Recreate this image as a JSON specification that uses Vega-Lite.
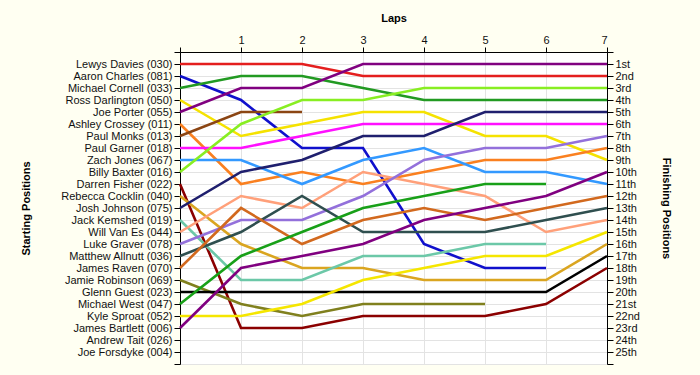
{
  "$schema": "https://vega.github.io/schema/vega-lite/v6.json",
  "width": 427,
  "height": 312,
  "autosize": {"type": "none"},
  "padding": {"left": 180, "top": 52, "right": 93, "bottom": 11},
  "background": "#FFFFF2",
  "config": {
    "view": {"fill": "white", "stroke": null},
    "font": "Liberation Sans",
    "axis": {
      "domainColor": "#000000",
      "tickColor": "#000000",
      "labelColor": "#111111",
      "titleColor": "#000000",
      "labelFont": "Liberation Sans",
      "titleFont": "Liberation Sans",
      "labelFontSize": 11,
      "titleFontSize": 11,
      "titleFontWeight": "bold",
      "gridColor": "#E3E3E3",
      "gridWidth": 1
    }
  },
  "data": {
    "values": [
      {"driver": "Lewys Davies (030)", "lap": 0, "pos": 1}, {"driver": "Lewys Davies (030)", "lap": 1, "pos": 1}, {"driver": "Lewys Davies (030)", "lap": 2, "pos": 1}, {"driver": "Lewys Davies (030)", "lap": 3, "pos": 2}, {"driver": "Lewys Davies (030)", "lap": 4, "pos": 2}, {"driver": "Lewys Davies (030)", "lap": 5, "pos": 2}, {"driver": "Lewys Davies (030)", "lap": 6, "pos": 2}, {"driver": "Lewys Davies (030)", "lap": 7, "pos": 2},
      {"driver": "Aaron Charles (081)", "lap": 0, "pos": 2}, {"driver": "Aaron Charles (081)", "lap": 1, "pos": 4}, {"driver": "Aaron Charles (081)", "lap": 2, "pos": 8}, {"driver": "Aaron Charles (081)", "lap": 3, "pos": 8}, {"driver": "Aaron Charles (081)", "lap": 4, "pos": 16}, {"driver": "Aaron Charles (081)", "lap": 5, "pos": 18}, {"driver": "Aaron Charles (081)", "lap": 6, "pos": 18},
      {"driver": "Michael Cornell (033)", "lap": 0, "pos": 3}, {"driver": "Michael Cornell (033)", "lap": 1, "pos": 2}, {"driver": "Michael Cornell (033)", "lap": 2, "pos": 2}, {"driver": "Michael Cornell (033)", "lap": 3, "pos": 3}, {"driver": "Michael Cornell (033)", "lap": 4, "pos": 4}, {"driver": "Michael Cornell (033)", "lap": 5, "pos": 4}, {"driver": "Michael Cornell (033)", "lap": 6, "pos": 4}, {"driver": "Michael Cornell (033)", "lap": 7, "pos": 4},
      {"driver": "Ross Darlington (050)", "lap": 0, "pos": 4}, {"driver": "Ross Darlington (050)", "lap": 1, "pos": 7}, {"driver": "Ross Darlington (050)", "lap": 2, "pos": 6}, {"driver": "Ross Darlington (050)", "lap": 3, "pos": 5}, {"driver": "Ross Darlington (050)", "lap": 4, "pos": 5}, {"driver": "Ross Darlington (050)", "lap": 5, "pos": 7}, {"driver": "Ross Darlington (050)", "lap": 6, "pos": 7}, {"driver": "Ross Darlington (050)", "lap": 7, "pos": 9},
      {"driver": "Joe Porter (055)", "lap": 0, "pos": 5}, {"driver": "Joe Porter (055)", "lap": 1, "pos": 3}, {"driver": "Joe Porter (055)", "lap": 2, "pos": 3}, {"driver": "Joe Porter (055)", "lap": 3, "pos": 1}, {"driver": "Joe Porter (055)", "lap": 4, "pos": 1}, {"driver": "Joe Porter (055)", "lap": 5, "pos": 1}, {"driver": "Joe Porter (055)", "lap": 6, "pos": 1}, {"driver": "Joe Porter (055)", "lap": 7, "pos": 1},
      {"driver": "Ashley Crossey (011)", "lap": 0, "pos": 6}, {"driver": "Ashley Crossey (011)", "lap": 1, "pos": 11}, {"driver": "Ashley Crossey (011)", "lap": 2, "pos": 10}, {"driver": "Ashley Crossey (011)", "lap": 3, "pos": 11}, {"driver": "Ashley Crossey (011)", "lap": 4, "pos": 10}, {"driver": "Ashley Crossey (011)", "lap": 5, "pos": 9}, {"driver": "Ashley Crossey (011)", "lap": 6, "pos": 9}, {"driver": "Ashley Crossey (011)", "lap": 7, "pos": 8},
      {"driver": "Paul Monks (013)", "lap": 0, "pos": 7}, {"driver": "Paul Monks (013)", "lap": 1, "pos": 5}, {"driver": "Paul Monks (013)", "lap": 2, "pos": 5},
      {"driver": "Paul Garner (018)", "lap": 0, "pos": 8}, {"driver": "Paul Garner (018)", "lap": 1, "pos": 8}, {"driver": "Paul Garner (018)", "lap": 2, "pos": 7}, {"driver": "Paul Garner (018)", "lap": 3, "pos": 6}, {"driver": "Paul Garner (018)", "lap": 4, "pos": 6}, {"driver": "Paul Garner (018)", "lap": 5, "pos": 6}, {"driver": "Paul Garner (018)", "lap": 6, "pos": 6}, {"driver": "Paul Garner (018)", "lap": 7, "pos": 6},
      {"driver": "Zach Jones (067)", "lap": 0, "pos": 9}, {"driver": "Zach Jones (067)", "lap": 1, "pos": 9}, {"driver": "Zach Jones (067)", "lap": 2, "pos": 11}, {"driver": "Zach Jones (067)", "lap": 3, "pos": 9}, {"driver": "Zach Jones (067)", "lap": 4, "pos": 8}, {"driver": "Zach Jones (067)", "lap": 5, "pos": 10}, {"driver": "Zach Jones (067)", "lap": 6, "pos": 10}, {"driver": "Zach Jones (067)", "lap": 7, "pos": 11},
      {"driver": "Billy Baxter (016)", "lap": 0, "pos": 10}, {"driver": "Billy Baxter (016)", "lap": 1, "pos": 6}, {"driver": "Billy Baxter (016)", "lap": 2, "pos": 4}, {"driver": "Billy Baxter (016)", "lap": 3, "pos": 4}, {"driver": "Billy Baxter (016)", "lap": 4, "pos": 3}, {"driver": "Billy Baxter (016)", "lap": 5, "pos": 3}, {"driver": "Billy Baxter (016)", "lap": 6, "pos": 3}, {"driver": "Billy Baxter (016)", "lap": 7, "pos": 3},
      {"driver": "Darren Fisher (022)", "lap": 0, "pos": 11}, {"driver": "Darren Fisher (022)", "lap": 1, "pos": 23}, {"driver": "Darren Fisher (022)", "lap": 2, "pos": 23}, {"driver": "Darren Fisher (022)", "lap": 3, "pos": 22}, {"driver": "Darren Fisher (022)", "lap": 4, "pos": 22}, {"driver": "Darren Fisher (022)", "lap": 5, "pos": 22}, {"driver": "Darren Fisher (022)", "lap": 6, "pos": 21}, {"driver": "Darren Fisher (022)", "lap": 7, "pos": 18},
      {"driver": "Rebecca Cocklin (040)", "lap": 0, "pos": 12}, {"driver": "Rebecca Cocklin (040)", "lap": 1, "pos": 16}, {"driver": "Rebecca Cocklin (040)", "lap": 2, "pos": 18}, {"driver": "Rebecca Cocklin (040)", "lap": 3, "pos": 18}, {"driver": "Rebecca Cocklin (040)", "lap": 4, "pos": 19}, {"driver": "Rebecca Cocklin (040)", "lap": 5, "pos": 19}, {"driver": "Rebecca Cocklin (040)", "lap": 6, "pos": 19}, {"driver": "Rebecca Cocklin (040)", "lap": 7, "pos": 16},
      {"driver": "Josh Johnson (075)", "lap": 0, "pos": 13}, {"driver": "Josh Johnson (075)", "lap": 1, "pos": 10}, {"driver": "Josh Johnson (075)", "lap": 2, "pos": 9}, {"driver": "Josh Johnson (075)", "lap": 3, "pos": 7}, {"driver": "Josh Johnson (075)", "lap": 4, "pos": 7}, {"driver": "Josh Johnson (075)", "lap": 5, "pos": 5}, {"driver": "Josh Johnson (075)", "lap": 6, "pos": 5}, {"driver": "Josh Johnson (075)", "lap": 7, "pos": 5},
      {"driver": "Jack Kemshed (019)", "lap": 0, "pos": 14}, {"driver": "Jack Kemshed (019)", "lap": 1, "pos": 19}, {"driver": "Jack Kemshed (019)", "lap": 2, "pos": 19}, {"driver": "Jack Kemshed (019)", "lap": 3, "pos": 17}, {"driver": "Jack Kemshed (019)", "lap": 4, "pos": 17}, {"driver": "Jack Kemshed (019)", "lap": 5, "pos": 16}, {"driver": "Jack Kemshed (019)", "lap": 6, "pos": 16},
      {"driver": "Will Van Es (044)", "lap": 0, "pos": 15}, {"driver": "Will Van Es (044)", "lap": 1, "pos": 12}, {"driver": "Will Van Es (044)", "lap": 2, "pos": 13}, {"driver": "Will Van Es (044)", "lap": 3, "pos": 10}, {"driver": "Will Van Es (044)", "lap": 4, "pos": 11}, {"driver": "Will Van Es (044)", "lap": 5, "pos": 12}, {"driver": "Will Van Es (044)", "lap": 6, "pos": 15}, {"driver": "Will Van Es (044)", "lap": 7, "pos": 14},
      {"driver": "Luke Graver (078)", "lap": 0, "pos": 16}, {"driver": "Luke Graver (078)", "lap": 1, "pos": 14}, {"driver": "Luke Graver (078)", "lap": 2, "pos": 14}, {"driver": "Luke Graver (078)", "lap": 3, "pos": 12}, {"driver": "Luke Graver (078)", "lap": 4, "pos": 9}, {"driver": "Luke Graver (078)", "lap": 5, "pos": 8}, {"driver": "Luke Graver (078)", "lap": 6, "pos": 8}, {"driver": "Luke Graver (078)", "lap": 7, "pos": 7},
      {"driver": "Matthew Allnutt (036)", "lap": 0, "pos": 17}, {"driver": "Matthew Allnutt (036)", "lap": 1, "pos": 15}, {"driver": "Matthew Allnutt (036)", "lap": 2, "pos": 12}, {"driver": "Matthew Allnutt (036)", "lap": 3, "pos": 15}, {"driver": "Matthew Allnutt (036)", "lap": 4, "pos": 15}, {"driver": "Matthew Allnutt (036)", "lap": 5, "pos": 15}, {"driver": "Matthew Allnutt (036)", "lap": 6, "pos": 14}, {"driver": "Matthew Allnutt (036)", "lap": 7, "pos": 13},
      {"driver": "James Raven (070)", "lap": 0, "pos": 18}, {"driver": "James Raven (070)", "lap": 1, "pos": 13}, {"driver": "James Raven (070)", "lap": 2, "pos": 16}, {"driver": "James Raven (070)", "lap": 3, "pos": 14}, {"driver": "James Raven (070)", "lap": 4, "pos": 13}, {"driver": "James Raven (070)", "lap": 5, "pos": 14}, {"driver": "James Raven (070)", "lap": 6, "pos": 13}, {"driver": "James Raven (070)", "lap": 7, "pos": 12},
      {"driver": "Jamie Robinson (069)", "lap": 0, "pos": 19}, {"driver": "Jamie Robinson (069)", "lap": 1, "pos": 21}, {"driver": "Jamie Robinson (069)", "lap": 2, "pos": 22}, {"driver": "Jamie Robinson (069)", "lap": 3, "pos": 21}, {"driver": "Jamie Robinson (069)", "lap": 4, "pos": 21}, {"driver": "Jamie Robinson (069)", "lap": 5, "pos": 21},
      {"driver": "Glenn Guest (023)", "lap": 0, "pos": 20}, {"driver": "Glenn Guest (023)", "lap": 1, "pos": 20}, {"driver": "Glenn Guest (023)", "lap": 2, "pos": 20}, {"driver": "Glenn Guest (023)", "lap": 3, "pos": 20}, {"driver": "Glenn Guest (023)", "lap": 4, "pos": 20}, {"driver": "Glenn Guest (023)", "lap": 5, "pos": 20}, {"driver": "Glenn Guest (023)", "lap": 6, "pos": 20}, {"driver": "Glenn Guest (023)", "lap": 7, "pos": 17},
      {"driver": "Michael West (047)", "lap": 0, "pos": 21}, {"driver": "Michael West (047)", "lap": 1, "pos": 17}, {"driver": "Michael West (047)", "lap": 2, "pos": 15}, {"driver": "Michael West (047)", "lap": 3, "pos": 13}, {"driver": "Michael West (047)", "lap": 4, "pos": 12}, {"driver": "Michael West (047)", "lap": 5, "pos": 11}, {"driver": "Michael West (047)", "lap": 6, "pos": 11},
      {"driver": "Kyle Sproat (052)", "lap": 0, "pos": 22}, {"driver": "Kyle Sproat (052)", "lap": 1, "pos": 22}, {"driver": "Kyle Sproat (052)", "lap": 2, "pos": 21}, {"driver": "Kyle Sproat (052)", "lap": 3, "pos": 19}, {"driver": "Kyle Sproat (052)", "lap": 4, "pos": 18}, {"driver": "Kyle Sproat (052)", "lap": 5, "pos": 17}, {"driver": "Kyle Sproat (052)", "lap": 6, "pos": 17}, {"driver": "Kyle Sproat (052)", "lap": 7, "pos": 15},
      {"driver": "James Bartlett (006)", "lap": 0, "pos": 23}, {"driver": "James Bartlett (006)", "lap": 1, "pos": 18}, {"driver": "James Bartlett (006)", "lap": 2, "pos": 17}, {"driver": "James Bartlett (006)", "lap": 3, "pos": 16}, {"driver": "James Bartlett (006)", "lap": 4, "pos": 14}, {"driver": "James Bartlett (006)", "lap": 5, "pos": 13}, {"driver": "James Bartlett (006)", "lap": 6, "pos": 12}, {"driver": "James Bartlett (006)", "lap": 7, "pos": 10}
    ]
  },
  "layer": [
    {
      "mark": {"type": "line", "strokeWidth": 2.6},
      "encoding": {
        "x": {
          "field": "lap",
          "type": "quantitative",
          "scale": {"domain": [0, 7], "nice": false, "zero": false},
          "axis": {
            "orient": "top",
            "values": [0, 1, 2, 3, 4, 5, 6, 7],
            "labelExpr": "datum.value == 0 ? '' : datum.label",
            "title": "Laps",
            "tickSize": 5,
            "labelPadding": 2,
            "titlePadding": 11,
            "labelAngle": 0,
            "grid": true
          }
        },
        "y": {
          "field": "pos",
          "type": "quantitative",
          "scale": {"domain": [0, 26], "reverse": true, "nice": false, "zero": false},
          "axis": {
            "orient": "left",
            "values": [0, 1, 2, 3, 4, 5, 6, 7, 8, 9, 10, 11, 12, 13, 14, 15, 16, 17, 18, 19, 20, 21, 22, 23, 24, 25, 26],
            "labelExpr": "datum.value >= 1 && datum.value <= 25 ? ['Lewys Davies (030)','Aaron Charles (081)','Michael Cornell (033)','Ross Darlington (050)','Joe Porter (055)','Ashley Crossey (011)','Paul Monks (013)','Paul Garner (018)','Zach Jones (067)','Billy Baxter (016)','Darren Fisher (022)','Rebecca Cocklin (040)','Josh Johnson (075)','Jack Kemshed (019)','Will Van Es (044)','Luke Graver (078)','Matthew Allnutt (036)','James Raven (070)','Jamie Robinson (069)','Glenn Guest (023)','Michael West (047)','Kyle Sproat (052)','James Bartlett (006)','Andrew Tait (026)','Joe Forsdyke (004)'][datum.value - 1] : ''",
            "title": "Starting Positions",
            "tickSize": 6,
            "labelPadding": 2,
            "titlePadding": 29,
            "grid": true
          }
        },
        "color": {
          "field": "driver",
          "type": "nominal",
          "legend": null,
          "scale": {
            "domain": ["Lewys Davies (030)", "Aaron Charles (081)", "Michael Cornell (033)", "Ross Darlington (050)", "Joe Porter (055)", "Ashley Crossey (011)", "Paul Monks (013)", "Paul Garner (018)", "Zach Jones (067)", "Billy Baxter (016)", "Darren Fisher (022)", "Rebecca Cocklin (040)", "Josh Johnson (075)", "Jack Kemshed (019)", "Will Van Es (044)", "Luke Graver (078)", "Matthew Allnutt (036)", "James Raven (070)", "Jamie Robinson (069)", "Glenn Guest (023)", "Michael West (047)", "Kyle Sproat (052)", "James Bartlett (006)"],
            "range": ["#E41E1E", "#1010CC", "#229A22", "#F5E200", "#800080", "#FA8020", "#8B4513", "#FF10FF", "#3399FF", "#88EE22", "#8B0000", "#DAA520", "#1F1F6E", "#6CC8A8", "#FFA07A", "#9370DB", "#2F4F4F", "#D2691E", "#80801E", "#000000", "#18A018", "#F5E600", "#800080"]
          }
        }
      }
    },
    {
      "mark": {"type": "point", "opacity": 0},
      "encoding": {
        "y": {
          "field": "pos",
          "type": "quantitative",
          "axis": {
            "orient": "right",
            "values": [0, 1, 2, 3, 4, 5, 6, 7, 8, 9, 10, 11, 12, 13, 14, 15, 16, 17, 18, 19, 20, 21, 22, 23, 24, 25, 26],
            "labelExpr": "datum.value >= 1 && datum.value <= 25 ? datum.value + ((datum.value == 1 || datum.value == 21) ? 'st' : (datum.value == 2 || datum.value == 22) ? 'nd' : (datum.value == 3 || datum.value == 23) ? 'rd' : 'th') : ''",
            "title": "Finishing Positions",
            "tickSize": 6,
            "labelPadding": 2,
            "titlePadding": 21,
            "grid": false
          }
        }
      }
    }
  ],
  "resolve": {"axis": {"y": "independent"}}
}
